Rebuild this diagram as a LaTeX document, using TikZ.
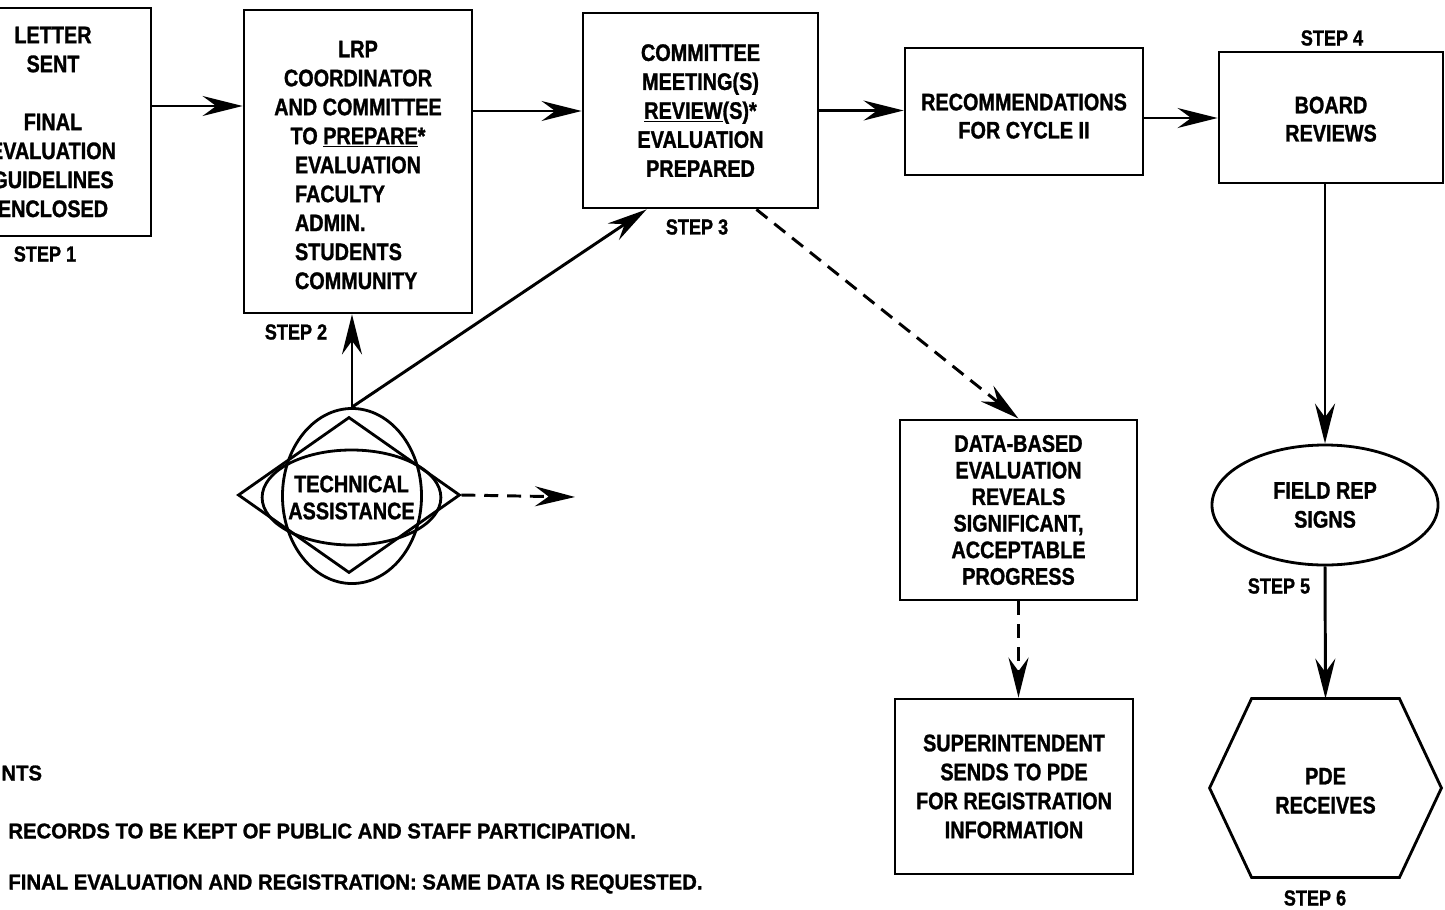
\documentclass[tikz,border=0pt]{standalone}
\usepackage{fontspec}
\setmainfont{Liberation Sans}[FakeStretch=0.83, BoldFeatures={FakeBold=1.2}]
\newfontfamily\notefont{Liberation Sans}[FakeStretch=0.95, BoldFeatures={FakeBold=1.2}]
\usetikzlibrary{arrows.meta, shapes.geometric, calc}
\tikzset{
  every picture/.style={font=\bfseries\fontsize{17}{20.6}\selectfont, line width=2pt},
  box/.style={draw, rectangle, align=center, inner sep=0pt},
  oval/.style={draw, ellipse, align=center, inner sep=0pt},
  steplabel/.style={font=\bfseries\fontsize{15.5}{18}\selectfont, inner sep=0pt},
  note/.style={anchor=west, inner sep=0pt, font=\notefont\bfseries\fontsize{15.2}{18}\selectfont},
  arrow/.style={-{Stealth[length=1cm, width=0.5cm, inset=0.34cm]}, line width=2.1pt},
  dasharrow/.style={arrow, dash pattern=on 0.35cm off 0.22cm},
}
\begin{document}
\begin{tikzpicture}[x=0.025cm, y=-0.025cm]
  \useasboundingbox (0,0) rectangle (1445,909);
  \clip (0,0) rectangle (1445,909);
  % top row
  \node[box, minimum width=4.9cm, minimum height=5.7cm] (b1) at (53,122)
    {LETTER\\SENT\\[0.725cm]FINAL\\EVALUATION\\GUIDELINES\\ENCLOSED};
  \node[box, minimum width=5.7cm, minimum height=7.575cm] (b2) at (358,161.5)
    {LRP\rule{0pt}{0.8cm}\\COORDINATOR\\AND COMMITTEE\\TO \underline{PREPARE}*\\
     \begin{tabular}[t]{@{}l@{}}EVALUATION\\FACULTY\\ADMIN.\\STUDENTS\\COMMUNITY\end{tabular}};
  \node[box, minimum width=5.875cm, minimum height=4.875cm] (b3) at (700.5,110.5)
    {COMMITTEE\\MEETING(S)\\\underline{REVIEW}(S)*\\EVALUATION\\PREPARED};
  \node[box, minimum width=5.95cm, minimum height=3.175cm, font=\bfseries\fontsize{17}{20}\selectfont] (b4) at (1024,111.5)
    {RECOMMENDATIONS\rule{0pt}{0.65cm}\\FOR CYCLE II};
  \node[box, minimum width=5.6cm, minimum height=3.275cm, font=\bfseries\fontsize{17}{20}\selectfont] (b5) at (1331,117.5)
    {BOARD\rule{0pt}{0.5cm}\\REVIEWS};
  % right column
  \node[oval, minimum width=5.65cm, minimum height=3cm] (fr) at (1325,505) {FIELD REP\\SIGNS};
  \node[align=center, inner sep=0pt, minimum width=5.725cm, minimum height=4.4cm] (pde) at (1325.5,788) {PDE\rule{0pt}{0.55cm}\\RECEIVES};
  \draw (pde.west) -- ($(pde.north west)+(42,0)$) -- ($(pde.north east)+(-42,0)$) -- (pde.east)
    -- ($(pde.south east)+(-42,0)$) -- ($(pde.south west)+(42,0)$) -- cycle;
  % middle column
  \node[box, minimum width=5.925cm, minimum height=4.5cm, font=\bfseries\fontsize{17}{18.9}\selectfont] (db) at (1018.5,510)
    {DATA-BASED\\EVALUATION\\REVEALS\\SIGNIFICANT,\\ACCEPTABLE\\PROGRESS};
  \node[box, minimum width=5.95cm, minimum height=4.375cm] (sup) at (1014,786.5)
    {SUPERINTENDENT\\SENDS TO PDE\\FOR REGISTRATION\\INFORMATION};
  % technical assistance
  \node[draw, diamond, inner sep=0pt, minimum width=5.55cm, minimum height=3.9cm] (ta) at (349,495) {};
  \node[draw, ellipse, inner sep=0pt, minimum width=3.475cm, minimum height=4.375cm] (taout) at (352,496) {};
  \node[oval, minimum width=3.925cm, minimum height=2.375cm, font=\bfseries\fontsize{17}{19.2}\selectfont] (tain) at (351.5,497.5)
    {TECHNICAL\\ASSISTANCE};
  \coordinate (taend) at (575,497);
  % step labels
  \node[steplabel] (s1) at (45,254) {STEP 1};
  \node[steplabel] (s2) at (296,332) {STEP 2};
  \node[steplabel] (s3) at (697,227) {STEP 3};
  \node[steplabel] (s4) at (1332,38) {STEP 4};
  \node[steplabel] (s5) at (1279,586) {STEP 5};
  \node[steplabel] (s6) at (1315,898) {STEP 6};
  % notes
  \node[note] (n0) at (0,773) {NTS};
  \node[note] (n1) at (7,831) {RECORDS TO BE KEPT OF PUBLIC AND STAFF PARTICIPATION.};
  \node[note] (n2) at (7,884) {FINAL EVALUATION AND REGISTRATION: SAME DATA IS REQUESTED.};
  % connectors
  \draw[arrow] (b1.east |- 0,106) -- (b2.west |- 0,106);
  \draw[arrow] (b2.east |- 0,111) -- (b3.west |- 0,111);
  \draw[arrow] (b3.east) -- (b4.west |- b3.east);
  \draw[arrow] (b4.east |- 0,118) -- (b5.west |- 0,118);
  \draw[arrow] (fr.north |- b5.south) -- (fr.north);
  \draw[arrow] (fr.south) -- (pde.north);
  \draw[arrow] (taout.north) -- (b2.south -| taout.north);
  \draw[arrow] (taout.north) -- ([xshift=1.625cm]b3.south west);
  \draw[dasharrow] (ta.east) -- (taend);
  \draw[dasharrow] ([xshift=-1.575cm]b3.south east) -- (db.north);
  \draw[dasharrow] (db.south) -- (db.south |- sup.north);
\end{tikzpicture}
\end{document}
